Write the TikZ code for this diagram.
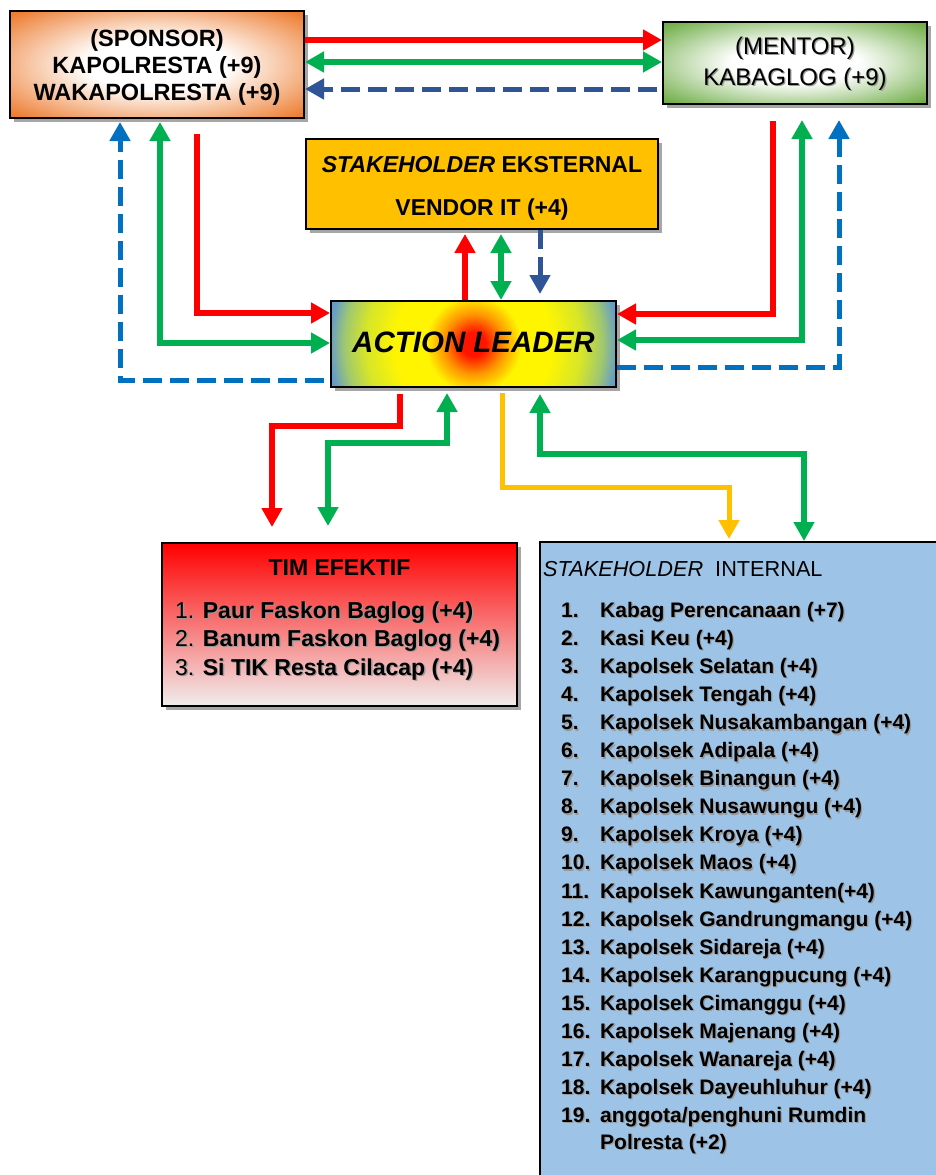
\documentclass[tikz,border=0pt]{standalone}
\usepackage{fontspec}
\setmainfont{Liberation Sans}
\usetikzlibrary{arrows.meta,shadows}
\definecolor{cred}{RGB}{255,0,0}
\definecolor{cgreen}{RGB}{0,176,80}
\definecolor{cdblue}{RGB}{47,85,151}
\definecolor{cblue}{RGB}{0,112,192}
\definecolor{cyel}{RGB}{255,192,0}
\definecolor{corange}{RGB}{237,125,49}
\definecolor{cmgreen}{RGB}{112,173,71}
\definecolor{cint}{RGB}{157,195,230}
\definecolor{alred}{RGB}{255,20,0}
\definecolor{alorange}{RGB}{255,150,0}
\definecolor{alyellow}{RGB}{255,245,0}
\definecolor{alyg}{RGB}{215,230,40}
\definecolor{algreen}{RGB}{160,200,110}
\definecolor{alblue}{RGB}{100,158,200}
\definecolor{timmid}{RGB}{245,188,188}
\definecolor{timbot}{RGB}{240,238,238}
\pgfdeclareradialshading{alshade}{\pgfpoint{0bp}{0bp}}{color(0bp)=(alred); color(2bp)=(alred); color(5bp)=(alorange); color(8bp)=(alyellow); color(13bp)=(alyellow); color(18bp)=(alyg); color(21.5bp)=(algreen); color(24bp)=(alblue); color(50bp)=(alblue)}
\pgfdeclareradialshading{spshade}{\pgfpoint{0bp}{0bp}}{color(0bp)=(white); color(12bp)=(white); color(34bp)=(corange); color(50bp)=(corange)}
\pgfdeclareradialshading{mnshade}{\pgfpoint{0bp}{0bp}}{color(0bp)=(white); color(12bp)=(white); color(34bp)=(cmgreen); color(50bp)=(cmgreen)}
\newcommand\shtxt[1]{\makebox[0pt][l]{\hspace{1.3pt}\raisebox{-1.3pt}{\textcolor{black!40}{#1}}}#1}
\tikzset{
  box/.style={draw=black, line width=2pt, inner sep=0pt,
    drop shadow={shadow xshift=4pt, shadow yshift=-4pt, opacity=0.35, fill=black}},
  arr/.style={line width=6pt, -{Triangle[length=19pt,width=20pt]}},
  darr/.style={line width=6pt, {Triangle[length=19pt,width=20pt]}-{Triangle[length=19pt,width=20pt]}},
  dsh/.style={line width=5pt, dash pattern=on 19pt off 8pt},
  listtxt/.style={anchor=base west, inner sep=0pt, font=\fontsize{21}{25}\selectfont\bfseries},
  timtxt/.style={anchor=base west, inner sep=0pt, font=\fontsize{23}{27}\selectfont},
}
\begin{document}
\begin{tikzpicture}[x=1pt,y=-1pt]
\path[fill=white] (0,0) rectangle (936,1175);
\useasboundingbox (0,0) rectangle (936,1175);

% boxes
\node[box, shade, shading=spshade, minimum width=294pt, minimum height=107pt] (sponsor) at (157,64.5) {};
\node[align=center, inner sep=0pt, font=\fontsize{23.5}{27}\selectfont\bfseries] (sptxt)
  at ([yshift=-3pt]sponsor.center) {(SPONSOR)\\KAPOLRESTA (+9)\\WAKAPOLRESTA (+9)};
\node[box, shade, shading=mnshade, minimum width=264pt, minimum height=82pt] (mentor) at (795,63) {};
\node[align=center, inner sep=0pt, font=\fontsize{24}{31}\selectfont] (mntxt)
  at ([yshift=-1.5pt]mentor.center) {\shtxt{(MENTOR)}\\\shtxt{KABAGLOG (+9)}};
\node[box, fill=cyel, minimum width=352pt, minimum height=90pt] (vendor) at (482,184) {};
\node[align=center, inner sep=0pt, font=\fontsize{23}{43}\selectfont\bfseries] (vdtxt)
  at ([yshift=-4pt]vendor.center) {\textit{STAKEHOLDER} EKSTERNAL\\VENDOR IT (+4)};
\node[box, minimum width=285pt, minimum height=86pt,
  path picture={\shade[shading=alshade] (path picture bounding box.center) circle (150pt);}] (AL) at (473.5,344) {};
\node[inner sep=0pt, font=\fontsize{29.5}{32}\selectfont\bfseries\itshape] (altxt)
  at ([yshift=2pt]AL.center) {ACTION LEADER};
\node[box, top color=red, middle color=timmid, bottom color=timbot,
  minimum width=355pt, minimum height=163pt] (tim) at (339.5,624.5) {};
\node[box, fill=cint, minimum width=410pt, minimum height=648pt] (int) at (745,866) {};

% tim efektif text
\node[anchor=base, inner sep=0pt, font=\fontsize{23}{27}\selectfont\bfseries] (timt) at (339.5,575) {TIM EFEKTIF};
\node[timtxt] (t1) at (175,618) {\shtxt{1. \textbf{Paur Faskon Baglog (+4)}}};
\node[timtxt] (t2) at (175,646.5) {\shtxt{2. \textbf{Banum Faskon Baglog (+4)}}};
\node[timtxt] (t3) at (175,675) {\shtxt{3. \textbf{Si TIK Resta Cilacap (+4)}}};

% stakeholder internal text
\node[anchor=base west, inner sep=0pt, font=\fontsize{21.7}{25}\selectfont] (intt) at (543,576)
  {\textit{STAKEHOLDER}\ \ INTERNAL};
\foreach \t [count=\k] in {{Kabag Perencanaan (+7)},{Kasi Keu (+4)},{Kapolsek Selatan (+4)},
  {Kapolsek Tengah (+4)},{Kapolsek Nusakambangan (+4)},{Kapolsek Adipala (+4)},
  {Kapolsek Binangun (+4)},{Kapolsek Nusawungu (+4)},{Kapolsek Kroya (+4)},
  {Kapolsek Maos (+4)},{Kapolsek Kawunganten(+4)},{Kapolsek Gandrungmangu (+4)},
  {Kapolsek Sidareja (+4)},{Kapolsek Karangpucung (+4)},{Kapolsek Cimanggu (+4)},
  {Kapolsek Majenang (+4)},{Kapolsek Wanareja (+4)},{Kapolsek Dayeuhluhur (+4)},
  {anggota/penghuni Rumdin}}{
  \node[listtxt] (i\k) at (561,{617.5+(\k-1)*28.05}) {\shtxt{\makebox[39pt][l]{\k.}\t}};
}
\node[listtxt] (i19b) at (600,1149.5) {\shtxt{Polresta (+2)}};

% top connectors
\draw[arr, cred] (sponsor.east |- 0,40) -- (mentor.west |- 0,40);
\draw[darr, cgreen] (sponsor.east |- 0,62) -- (mentor.west |- 0,62);
\draw[arr, dsh, cdblue, shorten <=5pt] (mentor.west |- 0,89) -- (sponsor.east |- 0,89);

% left side
\draw[arr, dsh, cblue, shorten <=6pt, shorten >=3pt] (AL.west |- 0,380) -| (sponsor.south -| 120,0);
\draw[darr, cgreen, shorten <=3pt] (sponsor.south -| 160,0) |- (AL.west |- 0,343);
\draw[arr, cred, shorten <=15pt] (sponsor.south -| 197,0) |- (AL.west |- 0,313);

% right side
\draw[arr, cred, shorten <=16pt] (mentor.south -| 773,0) |- (AL.east |- 0,314);
\draw[darr, cgreen, shorten <=15pt] (mentor.south -| 802,0) |- (AL.east |- 0,340);
\draw[arr, dsh, cblue, shorten >=15pt] (AL.east |- 0,367) -| (mentor.south -| 839,0);

% vendor
\draw[arr, cred, shorten >=4pt] (AL.north -| 465,0) -- (vendor.south -| 465,0);
\draw[darr, cgreen, shorten >=4pt] (AL.north -| 501,0) -- (vendor.south -| 501,0);
\draw[arr, dsh, cdblue, shorten >=6pt] (vendor.south -| 540,0) -- (AL.north -| 540,0);

% bottom
\coordinate (b1) at (272,426);
\coordinate (b2) at (328,443);
\coordinate (b3) at (729,487);
\coordinate (b4) at (804,454);
\draw[arr, cred, shorten <=6pt, shorten >=15pt] (AL.south -| 400,0) |- (b1) -- (tim.north -| b1);
\draw[darr, cgreen, shorten <=5pt, shorten >=16pt] (AL.south -| 447,0) |- (b2) -- (tim.north -| b2);
\draw[arr, cyel, line width=5pt, shorten <=5pt, shorten >=2pt] (AL.south -| 502,0) |- (b3) -- (int.north -| b3);
\draw[darr, cgreen, shorten <=6pt] (AL.south -| 540,0) |- (b4) -- (int.north -| b4);
\end{tikzpicture}
\end{document}
